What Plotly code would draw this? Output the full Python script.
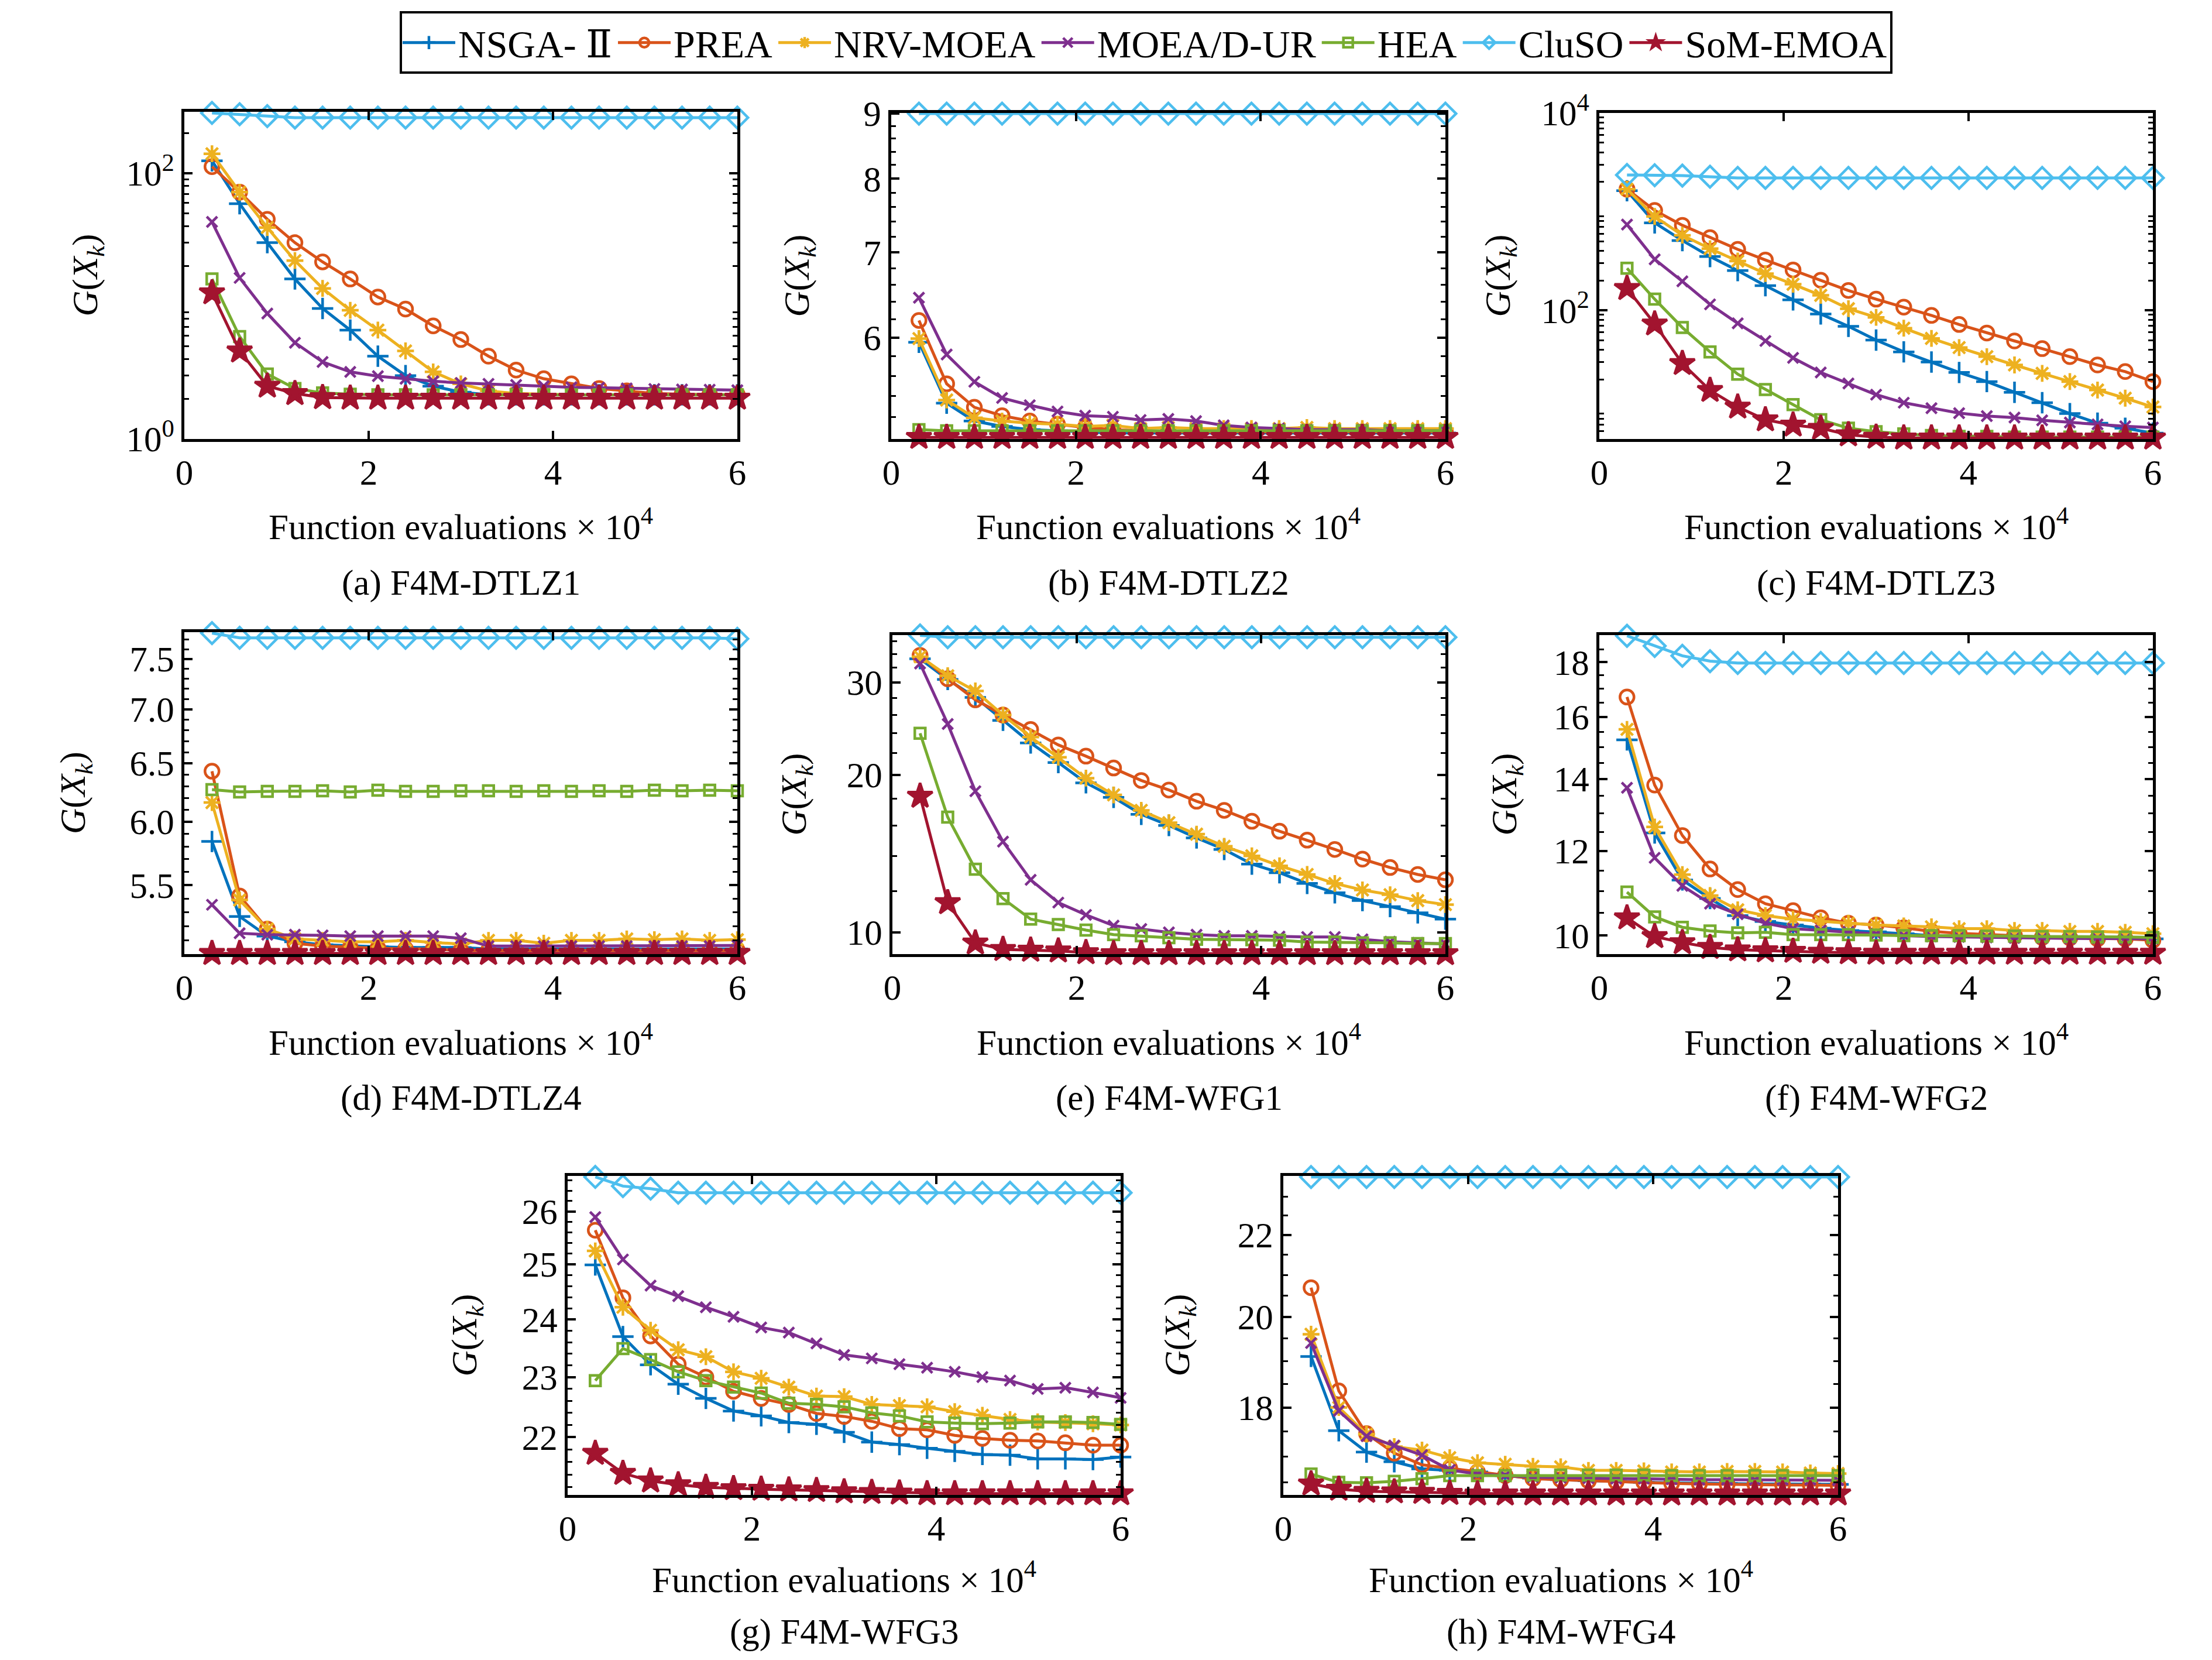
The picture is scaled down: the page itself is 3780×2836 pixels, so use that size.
import numpy as np
import plotly.graph_objects as go

# ── Data ───────────────────────────────────────────────────────────────────
EVALS = [0.3, 0.6, 0.9, 1.2, 1.5, 1.8, 2.1, 2.4, 2.7, 3.0,
         3.3, 3.6, 3.9, 4.2, 4.5, 4.8, 5.1, 5.4, 5.7, 6.0]

ALGS = ["NSGA- <span style='font-family:DejaVu Serif'>Ⅱ</span>", "PREA", "NRV-MOEA",
        "MOEA/D-UR", "HEA", "CluSO", "SoM-EMOA"]

# (a) F4M-DTLZ1
DTLZ1_NSGA2 = [124, 59, 30, 16, 9.6, 6.6, 4.2, 3.0, 2.5, 2.25, 2.15, 2.15, 2.15, 2.15, 2.15, 2.15, 2.15, 2.15, 2.15, 2.15]
DTLZ1_PREA = [112, 72, 45, 30, 21.5, 16, 11.7, 9.5, 7.1, 5.6, 4.2, 3.3, 2.84, 2.6, 2.4, 2.3, 2.2, 2.17, 2.15, 2.15]
DTLZ1_NRV = [140, 72, 39, 22, 13.6, 9.3, 6.6, 4.6, 3.2, 2.6, 2.3, 2.2, 2.17, 2.15, 2.15, 2.15, 2.15, 2.15, 2.15, 2.15]
DTLZ1_MOEAD = [43, 16.3, 8.8, 5.3, 3.8, 3.2, 2.97, 2.84, 2.72, 2.64, 2.6, 2.55, 2.5, 2.45, 2.43, 2.4, 2.38, 2.36, 2.35, 2.33]
DTLZ1_HEA = [16, 5.9, 3.08, 2.4, 2.22, 2.17, 2.15, 2.15, 2.15, 2.15, 2.15, 2.15, 2.15, 2.15, 2.15, 2.15, 2.15, 2.15, 2.15, 2.15]
DTLZ1_CLUSO = [284, 278, 269, 262, 262, 262, 262, 262, 262, 262, 262, 262, 262, 262, 262, 262, 262, 262, 262, 262]
DTLZ1_SOM = [12.6, 4.6, 2.5, 2.2, 2.05, 2.03, 2.03, 2.03, 2.03, 2.03, 2.03, 2.03, 2.03, 2.03, 2.03, 2.03, 2.03, 2.03, 2.03, 2.03]

# (b) F4M-DTLZ2
DTLZ2_NSGA2 = [5.95, 5.33, 5.16, 5.11, 5.08, 5.07, 5.06, 5.05, 5.05, 5.05, 5.05, 5.05, 5.05, 5.05, 5.05, 5.05, 5.05, 5.05, 5.05, 5.05]
DTLZ2_PREA = [6.19, 5.52, 5.29, 5.21, 5.16, 5.13, 5.10, 5.08, 5.07, 5.06, 5.06, 5.06, 5.06, 5.06, 5.06, 5.06, 5.06, 5.06, 5.06, 5.06]
DTLZ2_NRV = [5.99, 5.36, 5.19, 5.16, 5.14, 5.13, 5.11, 5.12, 5.09, 5.10, 5.09, 5.09, 5.09, 5.09, 5.10, 5.09, 5.09, 5.09, 5.09, 5.09]
DTLZ2_MOEAD = [6.45, 5.82, 5.54, 5.38, 5.31, 5.25, 5.21, 5.20, 5.17, 5.18, 5.16, 5.12, 5.10, 5.09, 5.08, 5.08, 5.08, 5.07, 5.07, 5.07]
DTLZ2_HEA = [5.08, 5.07, 5.07, 5.07, 5.07, 5.07, 5.07, 5.07, 5.07, 5.07, 5.07, 5.07, 5.07, 5.07, 5.07, 5.07, 5.07, 5.07, 5.07, 5.07]
DTLZ2_CLUSO = [9.0, 9.0, 9.0, 9.0, 9.0, 9.0, 9.0, 9.0, 9.0, 9.0, 9.0, 9.0, 9.0, 9.0, 9.0, 9.0, 9.0, 9.0, 9.0, 9.0]
DTLZ2_SOM = [5.01, 5.01, 5.01, 5.01, 5.01, 5.01, 5.01, 5.01, 5.01, 5.01, 5.01, 5.01, 5.01, 5.01, 5.01, 5.01, 5.01, 5.01, 5.01, 5.01]

# (c) F4M-DTLZ3
DTLZ3_NSGA2 = [1630, 771, 510, 351, 253, 178, 128, 92, 69, 50, 38, 30, 23.5, 19, 14.8, 11.6, 9.0, 7.2, 6.4, 5.7]
DTLZ3_PREA = [1690, 1030, 728, 545, 415, 324, 257, 202, 159, 130, 108, 89, 72, 59, 49, 41, 34, 28, 24, 19]
DTLZ3_NRV = [1690, 895, 577, 422, 316, 236, 184, 142, 104, 85, 66, 52, 42, 34, 28, 23, 19, 15.6, 12.9, 10.5]
DTLZ3_MOEAD = [740, 329, 197, 115, 74, 49, 33, 23.5, 18.2, 14, 11.6, 10.2, 9.1, 8.5, 8.2, 7.7, 7.3, 7.0, 6.7, 6.5]
DTLZ3_HEA = [267, 130, 67, 38, 22.6, 15.8, 11.1, 7.8, 6.4, 5.9, 5.6, 5.4, 5.3, 5.3, 5.2, 5.2, 5.2, 5.2, 5.2, 5.2]
DTLZ3_CLUSO = [2355, 2340, 2320, 2260, 2200, 2200, 2200, 2200, 2200, 2200, 2200, 2200, 2200, 2200, 2200, 2200, 2200, 2200, 2200, 2200]
DTLZ3_SOM = [167, 73, 29, 15.5, 10.5, 7.8, 6.9, 6.4, 5.5, 5.2, 5.1, 5.1, 5.1, 5.1, 5.1, 5.1, 5.1, 5.1, 5.1, 5.1]

# (d) F4M-DTLZ4
DTLZ4_NSGA2 = [5.84, 5.27, 5.13, 5.09, 5.07, 5.06, 5.055, 5.05, 5.05, 5.05, 5.04, 5.04, 5.04, 5.04, 5.04, 5.04, 5.04, 5.04, 5.04, 5.04]
DTLZ4_PREA = [6.43, 5.42, 5.18, 5.08, 5.06, 5.05, 5.045, 5.04, 5.04, 5.03, 5.03, 5.03, 5.03, 5.03, 5.03, 5.03, 5.03, 5.03, 5.03, 5.03]
DTLZ4_NRV = [6.16, 5.39, 5.18, 5.11, 5.10, 5.09, 5.09, 5.10, 5.085, 5.075, 5.10, 5.10, 5.08, 5.10, 5.10, 5.11, 5.105, 5.11, 5.10, 5.105]
DTLZ4_MOEAD = [5.355, 5.15, 5.14, 5.14, 5.135, 5.13, 5.13, 5.13, 5.13, 5.115, 5.06, 5.06, 5.06, 5.06, 5.06, 5.06, 5.06, 5.06, 5.06, 5.065]
DTLZ4_HEA = [6.27, 6.25, 6.255, 6.255, 6.26, 6.25, 6.265, 6.255, 6.255, 6.26, 6.26, 6.255, 6.26, 6.255, 6.26, 6.255, 6.265, 6.26, 6.265, 6.26]
DTLZ4_CLUSO = [7.77, 7.72, 7.72, 7.72, 7.72, 7.72, 7.72, 7.72, 7.72, 7.72, 7.72, 7.72, 7.72, 7.72, 7.72, 7.72, 7.72, 7.72, 7.72, 7.71]
DTLZ4_SOM = [5.01, 5.01, 5.01, 5.01, 5.01, 5.01, 5.01, 5.01, 5.01, 5.01, 5.01, 5.01, 5.01, 5.01, 5.01, 5.01, 5.01, 5.01, 5.01, 5.01]

# (e) F4M-WFG1
WFG1_NSGA2 = [33.3, 30.4, 28.1, 25.4, 23.0, 21.1, 19.3, 18.1, 16.8, 16.0, 15.15, 14.4, 13.5, 13.0, 12.4, 11.9, 11.5, 11.2, 10.9, 10.6]
WFG1_PREA = [33.8, 30.5, 27.8, 26.0, 24.4, 22.8, 21.7, 20.6, 19.5, 18.7, 17.8, 17.1, 16.3, 15.6, 15.0, 14.4, 13.8, 13.3, 12.9, 12.6]
WFG1_NRV = [33.6, 30.9, 28.9, 26.0, 23.6, 21.6, 19.7, 18.3, 17.1, 16.2, 15.4, 14.6, 14.0, 13.4, 12.9, 12.4, 12.05, 11.8, 11.5, 11.3]
WFG1_MOEAD = [32.6, 25.0, 18.6, 14.9, 12.6, 11.4, 10.8, 10.3, 10.15, 10.0, 9.9, 9.85, 9.85, 9.82, 9.8, 9.8, 9.7, 9.6, 9.55, 9.5]
WFG1_HEA = [24.0, 16.6, 13.2, 11.6, 10.6, 10.35, 10.1, 9.9, 9.85, 9.77, 9.7, 9.68, 9.68, 9.66, 9.58, 9.58, 9.55, 9.55, 9.52, 9.52]
WFG1_CLUSO = [36.9, 36.6, 36.6, 36.6, 36.6, 36.6, 36.6, 36.6, 36.6, 36.6, 36.6, 36.6, 36.6, 36.6, 36.6, 36.6, 36.6, 36.6, 36.6, 36.6]
WFG1_SOM = [18.2, 11.4, 9.55, 9.28, 9.25, 9.22, 9.15, 9.11, 9.11, 9.11, 9.11, 9.11, 9.11, 9.11, 9.11, 9.11, 9.11, 9.11, 9.11, 9.11]

# (f) F4M-WFG2
WFG2_NSGA2 = [15.23, 12.47, 11.27, 10.83, 10.44, 10.31, 10.23, 10.16, 10.11, 10.08, 10.04, 10.0, 9.98, 9.97, 9.96, 9.95, 9.95, 9.94, 9.94, 9.93]
WFG2_PREA = [16.7, 13.82, 12.4, 11.54, 11.04, 10.71, 10.55, 10.39, 10.27, 10.23, 10.17, 10.09, 10.05, 10.03, 10.0, 9.96, 9.95, 9.93, 9.93, 9.9]
WFG2_NRV = [15.58, 12.63, 11.4, 10.9, 10.57, 10.44, 10.36, 10.31, 10.27, 10.23, 10.21, 10.19, 10.15, 10.15, 10.11, 10.11, 10.09, 10.09, 10.07, 10.04]
WFG2_MOEAD = [13.74, 11.82, 11.13, 10.71, 10.47, 10.27, 10.15, 10.11, 10.08, 10.04, 10.0, 9.98, 9.97, 9.96, 9.95, 9.95, 9.94, 9.94, 9.93, 9.93]
WFG2_HEA = [10.98, 10.41, 10.18, 10.1, 10.06, 10.07, 10.02, 10.02, 10.02, 10.01, 10.0, 10.0, 10.0, 9.99, 9.99, 9.98, 9.98, 9.97, 9.97, 9.96]
WFG2_CLUSO = [19.05, 18.64, 18.25, 18.04, 17.97, 17.97, 17.97, 17.97, 17.97, 17.97, 17.97, 17.97, 17.97, 17.97, 17.97, 17.97, 17.97, 17.97, 17.97, 17.97]
WFG2_SOM = [10.39, 9.98, 9.85, 9.75, 9.7, 9.68, 9.67, 9.65, 9.64, 9.63, 9.63, 9.63, 9.63, 9.63, 9.63, 9.63, 9.63, 9.63, 9.63, 9.63]

# (g) F4M-WFG3
WFG3_NSGA2 = [24.99, 23.7, 23.21, 22.88, 22.64, 22.43, 22.35, 22.24, 22.21, 22.08, 21.92, 21.88, 21.82, 21.77, 21.72, 21.71, 21.65, 21.65, 21.64, 21.68]
WFG3_PREA = [25.64, 24.39, 23.71, 23.22, 23.0, 22.76, 22.64, 22.54, 22.39, 22.34, 22.26, 22.14, 22.12, 22.03, 21.98, 21.95, 21.94, 21.91, 21.87, 21.87]
WFG3_NRV = [25.25, 24.22, 23.81, 23.47, 23.35, 23.09, 22.98, 22.83, 22.68, 22.67, 22.54, 22.52, 22.5, 22.42, 22.36, 22.29, 22.25, 22.24, 22.22, 22.2]
WFG3_MOEAD = [25.89, 25.09, 24.61, 24.42, 24.22, 24.05, 23.86, 23.77, 23.58, 23.38, 23.32, 23.22, 23.16, 23.09, 23.0, 22.94, 22.8, 22.82, 22.74, 22.65]
WFG3_HEA = [22.94, 23.49, 23.3, 23.09, 22.94, 22.83, 22.73, 22.56, 22.54, 22.5, 22.4, 22.35, 22.25, 22.23, 22.22, 22.23, 22.25, 22.25, 22.24, 22.21]
WFG3_CLUSO = [26.67, 26.49, 26.44, 26.36, 26.36, 26.36, 26.36, 26.36, 26.36, 26.36, 26.36, 26.36, 26.36, 26.36, 26.36, 26.36, 26.36, 26.36, 26.36, 26.36]
WFG3_SOM = [21.74, 21.42, 21.3, 21.24, 21.2, 21.18, 21.17, 21.16, 21.15, 21.13, 21.12, 21.11, 21.1, 21.1, 21.1, 21.1, 21.1, 21.1, 21.1, 21.1]

# (h) F4M-WFG4
WFG4_NSGA2 = [19.1, 17.52, 17.09, 16.9, 16.76, 16.73, 16.70, 16.63, 16.58, 16.55, 16.53, 16.52, 16.50, 16.49, 16.48, 16.48, 16.47, 16.47, 16.47, 16.46]
WFG4_PREA = [20.69, 18.35, 17.46, 17.07, 16.84, 16.77, 16.70, 16.63, 16.57, 16.55, 16.53, 16.51, 16.50, 16.48, 16.47, 16.46, 16.46, 16.45, 16.45, 16.44]
WFG4_NRV = [19.6, 18.0, 17.45, 17.2, 17.13, 16.98, 16.88, 16.85, 16.81, 16.8, 16.73, 16.73, 16.72, 16.70, 16.70, 16.71, 16.71, 16.70, 16.68, 16.67]
WFG4_MOEAD = [19.4, 17.93, 17.41, 17.22, 17.03, 16.74, 16.66, 16.63, 16.60, 16.59, 16.58, 16.57, 16.57, 16.56, 16.55, 16.55, 16.55, 16.55, 16.55, 16.54]
WFG4_HEA = [16.66, 16.5, 16.49, 16.52, 16.57, 16.63, 16.63, 16.63, 16.64, 16.64, 16.64, 16.64, 16.64, 16.63, 16.63, 16.63, 16.63, 16.63, 16.63, 16.63]
WFG4_CLUSO = [23.53, 23.53, 23.53, 23.53, 23.53, 23.53, 23.53, 23.53, 23.53, 23.53, 23.53, 23.53, 23.53, 23.53, 23.53, 23.53, 23.53, 23.53, 23.53, 23.53]
WFG4_SOM = [16.47, 16.37, 16.33, 16.32, 16.31, 16.29, 16.28, 16.28, 16.28, 16.28, 16.28, 16.28, 16.28, 16.28, 16.28, 16.28, 16.28, 16.28, 16.28, 16.28]

# ── Style ──────────────────────────────────────────────────────────────────
W, H = 3780, 2836
FONT = "Liberation Serif, Times New Roman, serif"
FS = 61
COLORS = ["#0072BD", "#D95319", "#EDB120", "#7E2F8E", "#77AC30", "#4DBEEE", "#A2142F"]
SYMBOLS = ["cross-thin-open", "circle-open", "asterisk-open", "x-thin-open",
           "square-open", "diamond-open", "star"]
SIZES = [26, 24, 24, 18, 18, 28, 32]


def decades(lo, hi):
    return [m * 10 ** e for e in range(0, 4) for m in range(2, 10) if lo < m * 10 ** e < hi]


PANELS = [
    dict(title="(a) F4M-DTLZ1", box=(307, 1252, 183, 742), ytoff=165,
         series=[DTLZ1_NSGA2, DTLZ1_PREA, DTLZ1_NRV, DTLZ1_MOEAD, DTLZ1_HEA, DTLZ1_CLUSO, DTLZ1_SOM],
         yrange=[0, 2.462], tickvals=[1, 100], ticktext=["10<sup>0</sup>", "10<sup>2</sup>"],
         minor=decades(1, 290)),
    dict(title="(b) F4M-DTLZ2", box=(1515, 2462, 185, 742), ytoff=158,
         series=[DTLZ2_NSGA2, DTLZ2_PREA, DTLZ2_NRV, DTLZ2_MOEAD, DTLZ2_HEA, DTLZ2_CLUSO, DTLZ2_SOM],
         yrange=[np.log10(4.995), np.log10(9.01)], tickvals=[6, 7, 8, 9], ticktext=["6", "7", "8", "9"],
         minor=list(np.arange(5.2, 9.0, 0.2))),
    dict(title="(c) F4M-DTLZ3", box=(2725, 3671, 185, 742), ytoff=170,
         series=[DTLZ3_NSGA2, DTLZ3_PREA, DTLZ3_NRV, DTLZ3_MOEAD, DTLZ3_HEA, DTLZ3_CLUSO, DTLZ3_SOM],
         yrange=[0.697, 4.0], tickvals=[100, 10000], ticktext=["10<sup>2</sup>", "10<sup>4</sup>"],
         minor=decades(5, 10000)),
    dict(title="(d) F4M-DTLZ4", box=(307, 1252, 1072, 1622), ytoff=186,
         series=[DTLZ4_NSGA2, DTLZ4_PREA, DTLZ4_NRV, DTLZ4_MOEAD, DTLZ4_HEA, DTLZ4_CLUSO, DTLZ4_SOM],
         yrange=[np.log10(5.005), np.log10(7.78)], tickvals=[5.5, 6.0, 6.5, 7.0, 7.5],
         ticktext=["5.5", "6.0", "6.5", "7.0", "7.5"],
         minor=list(np.arange(5.1, 7.75, 0.1))),
    dict(title="(e) F4M-WFG1", box=(1517, 2462, 1077, 1622), ytoff=164,
         series=[WFG1_NSGA2, WFG1_PREA, WFG1_NRV, WFG1_MOEAD, WFG1_HEA, WFG1_CLUSO, WFG1_SOM],
         yrange=[np.log10(9.09), np.log10(36.95)], tickvals=[10, 20, 30], ticktext=["10", "20", "30"],
         minor=list(np.arange(12, 37, 2))),
    dict(title="(f) F4M-WFG2", box=(2725, 3671, 1077, 1622), ytoff=158,
         series=[WFG2_NSGA2, WFG2_PREA, WFG2_NRV, WFG2_MOEAD, WFG2_HEA, WFG2_CLUSO, WFG2_SOM],
         yrange=[np.log10(9.61), np.log10(19.08)], tickvals=[10, 12, 14, 16, 18],
         ticktext=["10", "12", "14", "16", "18"],
         minor=list(np.arange(10.5, 19.0, 0.5))),
    dict(title="(g) F4M-WFG3", box=(962, 1907, 2001, 2546), ytoff=173,
         series=[WFG3_NSGA2, WFG3_PREA, WFG3_NRV, WFG3_MOEAD, WFG3_HEA, WFG3_CLUSO, WFG3_SOM],
         yrange=[np.log10(21.08), np.log10(26.69)], tickvals=[22, 23, 24, 25, 26],
         ticktext=["22", "23", "24", "25", "26"],
         minor=list(np.arange(21.2, 26.6, 0.2))),
    dict(title="(h) F4M-WFG4", box=(2185, 3133, 2001, 2546), ytoff=178,
         series=[WFG4_NSGA2, WFG4_PREA, WFG4_NRV, WFG4_MOEAD, WFG4_HEA, WFG4_CLUSO, WFG4_SOM],
         yrange=[np.log10(16.26), np.log10(23.56)], tickvals=[18, 20, 22], ticktext=["18", "20", "22"],
         minor=list(np.arange(16.5, 23.5, 0.5))),
]

# ── Figure ─────────────────────────────────────────────────────────────────
fig = go.Figure()
layout = {}
annotations = []

for i, p in enumerate(PANELS):
    n = "" if i == 0 else str(i + 1)
    x0, x1, y0, y1 = p["box"]
    for k, (name, vals) in enumerate(zip(ALGS, p["series"])):
        fig.add_trace(go.Scatter(
            x=EVALS, y=vals, xaxis="x" + n, yaxis="y" + n,
            mode="lines+markers", name=name, legendgroup=str(k),
            showlegend=(i == 0), cliponaxis=False,
            line=dict(color=COLORS[k], width=5),
            marker=dict(symbol=SYMBOLS[k], size=SIZES[k], color=COLORS[k],
                        line=dict(color=COLORS[k], width=4.5)),
        ))

    axis_common = dict(
        showline=True, linecolor="black", linewidth=5, mirror="ticks",
        ticks="inside", ticklen=14, tickwidth=4, tickcolor="black",
        showgrid=False, zeroline=False,
        tickfont=dict(family=FONT, size=FS, color="black"),
    )
    layout["xaxis" + n] = dict(
        axis_common, domain=[x0 / W, x1 / W], anchor="y" + n,
        range=[0, 6], tickvals=[0, 2, 4, 6],
    )
    layout["yaxis" + n] = dict(
        axis_common, domain=[1 - y1 / H, 1 - y0 / H], anchor="x" + n,
        type="log", range=p["yrange"], tickvals=p["tickvals"], ticktext=p["ticktext"],
        minor=dict(ticks="inside", ticklen=8, tickwidth=3, tickcolor="black",
                   tickvals=p["minor"], showgrid=False),
    )

    # bottom row sits closer to the page edge
    last_row = i >= 6
    xc = (x0 + x1) / 2
    annotations.append(dict(
        x=xc / W, y=1 - (y1 + (140 if last_row else 146)) / H, xref="paper", yref="paper",
        text="Function evaluations × 10<sup>4</sup>", showarrow=False,
        xanchor="center", yanchor="middle",
        font=dict(family=FONT, size=FS, color="black"),
    ))
    annotations.append(dict(
        x=xc / W, y=1 - (y1 + (234 if last_row else 246)) / H, xref="paper", yref="paper",
        text=p["title"], showarrow=False, xanchor="center", yanchor="middle",
        font=dict(family=FONT, size=FS, color="black"),
    ))
    annotations.append(dict(
        x=(x0 - p["ytoff"]) / W, y=1 - (y0 + y1) / 2 / H, xref="paper", yref="paper",
        text="<i>G</i>(<i>X</i><sub><i>k</i></sub>)", showarrow=False, textangle=-90,
        xanchor="center", yanchor="middle",
        font=dict(family=FONT, size=FS, color="black"),
    ))

fig.update_layout(
    **layout,
    annotations=annotations,
    width=W, height=H,
    margin=dict(l=0, r=0, t=0, b=0, autoexpand=False),
    paper_bgcolor="white", plot_bgcolor="white",
    font=dict(family=FONT, size=FS, color="black"),
    legend=dict(
        orientation="h", x=0.516, xanchor="center", y=0.996, yanchor="top",
        bordercolor="black", borderwidth=4, bgcolor="white",
        font=dict(family=FONT, size=66, color="black"),
        itemwidth=90, tracegroupgap=0,
    ),
)

fig.write_html("out.html")
